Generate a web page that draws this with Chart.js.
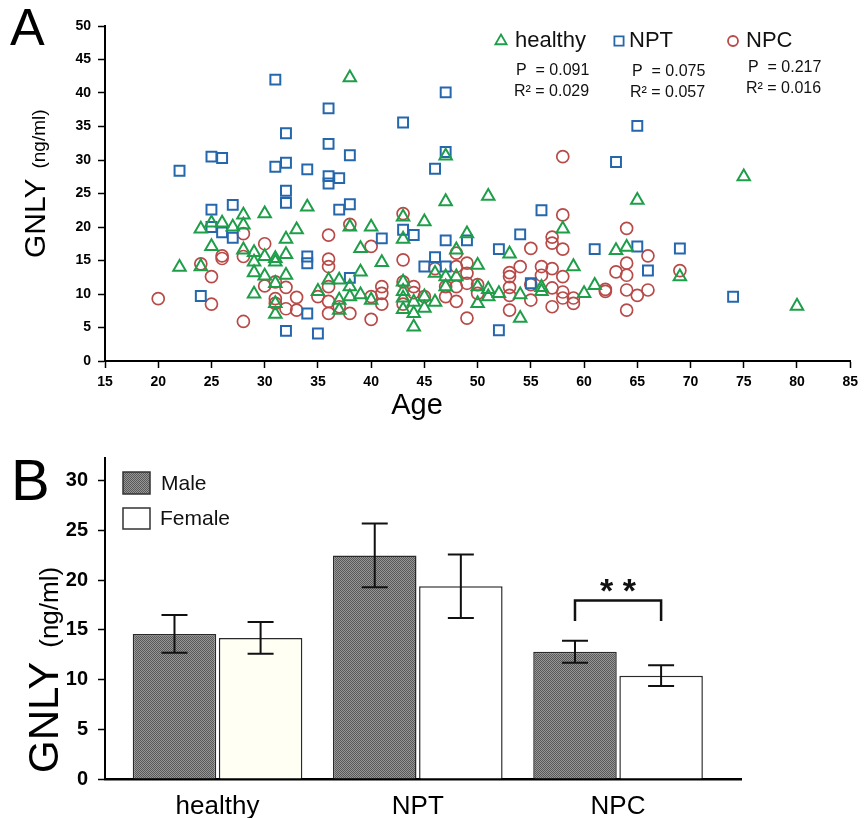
<!DOCTYPE html>
<html>
<head>
<meta charset="utf-8">
<script src="https://cdn.jsdelivr.net/npm/chart.js@4.4.1/dist/chart.umd.min.js"></script>
<style>
  html, body { margin: 0; padding: 0; background: #fff; }
  #wrap { position: relative; width: 864px; height: 818px; }
  #chartA { position: absolute; left: 0; top: 0; }
  #chartB { position: absolute; left: 0; top: 420px; }
</style>
</head>
<body>
<div id="wrap">
  <canvas id="chartA" width="864" height="420"></canvas>
  <canvas id="chartB" width="864" height="398"></canvas>
</div>
<script>
// ---- panel A: GNLY vs age ----
const healthyAge  = [22,24,24,25,26,25,27,28,28,28,29,29,29,29,30,30,30,31,31,31,31,31,32,32,32,33,34,38,38,40,39,41,39,37,36,35,38,38,39,37,37,40,43,43,45,47,47,51,43,43,43,43,44,44,44,45,45,46,46,47,47,48,48,49,50,50,50,65,58,53,59,63,64,51,51,52,54,54,56,56,60,61,75,69,80]
const healthyGnly = [14.0,14.1,19.7,20.6,20.6,17.1,20.0,21.8,20.3,16.6,16.2,14.8,13.2,10.0,22.0,15.6,12.7,15.3,14.8,11.6,8.6,7.0,18.2,15.9,12.8,19.6,23.0,42.3,20.0,20.0,16.8,14.7,13.3,12.1,12.1,10.4,11.1,9.6,9.9,9.1,7.6,9.1,21.5,18.2,20.8,23.8,30.6,24.6,11.8,10.4,9.4,7.7,8.8,7.1,5.1,9.6,7.9,8.8,13.1,12.6,11.1,12.6,16.6,19.0,14.3,11.1,8.6,24.0,19.7,16.0,14.1,16.5,17.0,10.7,9.6,10.1,9.9,6.4,11.0,10.4,10.1,11.3,27.5,12.6,8.2]

const nptAge  = [22,25,26,31,32,32,32,25,27,25,26,27,24,32,31,36,32,36,38,34,36,36,37,37,38,34,34,34,35,38,41,43,44,46,47,47,43,47,46,45,47,49,63,56,54,52,61,65,66,55,52,69,65,74]
const nptGnly = [28.4,30.5,30.3,29.0,29.6,25.4,23.6,22.6,23.3,20.0,19.2,18.4,9.7,4.5,42.0,37.7,34.0,32.4,30.7,28.6,27.6,26.5,27.3,22.6,23.4,15.6,14.6,7.1,4.1,12.4,18.3,19.6,18.8,28.7,31.2,40.1,35.6,18.0,15.5,14.1,14.1,18.0,29.7,22.5,18.9,16.7,16.7,17.1,13.5,11.6,4.6,16.8,35.1,9.6]

const npcAge  = [20,24,25,25,26,26,28,28,28,30,30,31,31,31,32,32,33,33,36,36,36,36,36,36,35,38,38,37,40,40,40,41,41,41,43,43,43,43,44,44,45,46,47,47,48,48,48,48,49,49,49,49,50,50,58,58,57,57,58,55,54,53,53,53,53,53,56,56,55,55,57,58,57,57,58,58,59,59,62,62,63,64,64,64,64,64,65,66,66,69]
const npcGnly = [9.3,14.5,12.6,8.5,15.7,15.3,19.0,15.6,5.9,17.5,11.2,11.8,9.3,8.6,11.0,7.8,9.5,7.6,18.8,15.2,14.1,11.1,8.9,7.1,9.6,20.4,7.1,8.1,17.1,9.6,6.2,11.1,10.1,8.5,22.0,15.1,11.8,8.5,11.1,10.2,9.6,13.8,11.1,9.6,16.1,14.1,11.1,8.9,14.6,13.1,11.6,6.4,11.4,10.1,30.5,21.8,18.5,17.6,16.7,16.8,14.1,13.2,12.6,11.0,9.8,7.6,14.1,12.8,11.4,9.1,13.8,12.6,10.9,8.1,10.3,9.4,9.4,8.6,10.7,10.4,13.3,19.8,14.6,12.8,10.6,7.6,9.8,15.7,10.6,13.5]

const groupLabels = ['healthy', 'NPT', 'NPC']
const pValues     = ['0.091', '0.075', '0.217']
const rSquared    = ['0.029', '0.057', '0.016']

// ---- panel B: mean GNLY by sex ----
const sexLabels  = ['Male', 'Female']
const maleMean   = [14.6, 22.5, 12.8]
const maleErr    = [1.9, 3.2, 1.1]
const femaleMean = [14.2, 19.4, 10.4]
const femaleErr  = [1.6, 3.2, 1.05]

const GREEN = '#1f9e4a'
const BLUE  = '#2467ad'
const RED   = '#b84a48'
const FONT  = "'Liberation Sans', Arial, sans-serif"

const pairs = (xs, ys) => xs.map((x, i) => ({ x, y: ys[i] }))

function drawMarker(ctx, style, x, y, r, color) {
  ctx.save()
  ctx.strokeStyle = color
  ctx.lineWidth = 1.8
  ctx.beginPath()
  if (style === 'triangle') {
    ctx.moveTo(x, y - r)
    ctx.lineTo(x + r * 0.866, y + r * 0.5)
    ctx.lineTo(x - r * 0.866, y + r * 0.5)
    ctx.closePath()
  } else if (style === 'rect') {
    const s = r * Math.SQRT1_2
    ctx.rect(x - s, y - s, 2 * s, 2 * s)
  } else {
    ctx.arc(x, y, r, 0, Math.PI * 2)
  }
  ctx.stroke()
  ctx.restore()
}

function drawVTitle(ctx, x, yStart, big, bigFont, small, smallFont, gap) {
  ctx.save()
  ctx.translate(x, yStart)
  ctx.rotate(-Math.PI / 2)
  ctx.fillStyle = '#000'
  ctx.textAlign = 'left'
  ctx.textBaseline = 'alphabetic'
  ctx.font = bigFont
  ctx.fillText(big, 0, 0)
  const w = ctx.measureText(big).width
  ctx.font = smallFont
  ctx.fillText(small, w + gap, 0)
  ctx.restore()
}

const panelA = {
  id: 'panelA',
  afterDraw(chart) {
    const ctx = chart.ctx
    ctx.save()
    ctx.fillStyle = '#000'
    ctx.textBaseline = 'alphabetic'
    ctx.font = `52px ${FONT}`
    ctx.fillText('A', 10, 45)

    ctx.font = `29px ${FONT}`
    ctx.textAlign = 'center'
    ctx.fillText('Age', 417, 414)

    drawVTitle(ctx, 45, 258, 'GNLY', `30px ${FONT}`, '(ng/ml)', `19px ${FONT}`, 10)

    // legend + regression stats
    const styles = ['triangle', 'rect', 'circle']
    const colors = [GREEN, BLUE, RED]
    const markX = [501, 619, 733]
    const textX = [515, 629, 746]
    const statX = [516, 632, 748]
    const statY = [71, 72, 68]
    ctx.textAlign = 'left'
    ctx.textBaseline = 'middle'
    for (let i = 0; i < 3; i++) {
      drawMarker(ctx, styles[i], markX[i], 41, styles[i] === 'circle' ? 5 : 6.5, colors[i])
      ctx.font = `22px ${FONT}`
      ctx.fillStyle = '#111'
      ctx.fillText(groupLabels[i], textX[i], 41)
      ctx.font = `16px ${FONT}`
      ctx.fillText(`P  = ${pValues[i]}`, statX[i], statY[i])
      ctx.fillText(`R² = ${rSquared[i]}`, statX[i] - 2, statY[i] + 21)
    }
    ctx.restore()
  }
}

new Chart(document.getElementById('chartA'), {
  type: 'scatter',
  data: {
    datasets: [
      { label: 'healthy', data: pairs(healthyAge, healthyGnly), pointStyle: 'triangle', pointRadius: 7.2,
        pointBorderColor: GREEN, pointBackgroundColor: 'rgba(0,0,0,0)', pointBorderWidth: 2 },
      { label: 'NPT', data: pairs(nptAge, nptGnly), pointStyle: 'rect', pointRadius: 7,
        pointBorderColor: BLUE, pointBackgroundColor: 'rgba(0,0,0,0)', pointBorderWidth: 2 },
      { label: 'NPC', data: pairs(npcAge, npcGnly), pointStyle: 'circle', pointRadius: 6,
        pointBorderColor: RED, pointBackgroundColor: 'rgba(0,0,0,0)', pointBorderWidth: 1.7 }
    ]
  },
  options: {
    responsive: false,
    animation: false,
    layout: { padding: { left: 0, right: 11, top: 26, bottom: 0 } },
    plugins: { legend: { display: false }, tooltip: { enabled: false } },
    scales: {
      x: {
        type: 'linear', min: 15, max: 85,
        afterFit: (s) => { s.height = 59 },
        ticks: { stepSize: 5, color: '#000', padding: 6, font: { size: 14, weight: 'bold', family: FONT } },
        grid: { drawOnChartArea: false, drawTicks: true, tickLength: 7, tickColor: '#000', tickWidth: 1.5 },
        border: { color: '#000', width: 2 }
      },
      y: {
        min: 0, max: 50,
        afterFit: (s) => { s.width = 105 },
        ticks: { stepSize: 5, color: '#000', padding: 7, font: { size: 14, weight: 'bold', family: FONT } },
        grid: { drawOnChartArea: false, drawTicks: true, tickLength: 7, tickColor: '#000', tickWidth: 1.5 },
        border: { color: '#000', width: 2 }
      }
    }
  },
  plugins: [panelA]
})

// ---- panel B ----
const ctxB = document.getElementById('chartB').getContext('2d')
function stipple() {
  const c = document.createElement('canvas')
  c.width = 4; c.height = 4
  const g = c.getContext('2d')
  g.fillStyle = '#969696'
  g.fillRect(0, 0, 4, 4)
  g.fillStyle = '#595959'
  for (let y = 0; y < 4; y++) for (let x = 0; x < 4; x++) if ((x + y) % 2 === 0) g.fillRect(x, y, 1, 1)
  return ctxB.createPattern(c, 'repeat')
}
const maleFill = stipple()
const femaleFill = ['#fffff4', '#ffffff', '#ffffff']

const panelB = {
  id: 'panelB',
  afterDatasetsDraw(chart) {
    const ctx = chart.ctx
    const yS = chart.scales.y
    const errs = [maleErr, femaleErr]
    const means = [maleMean, femaleMean]
    ctx.save()
    ctx.strokeStyle = '#111'
    ctx.lineWidth = 2
    for (let d = 0; d < 2; d++) {
      chart.getDatasetMeta(d).data.forEach((bar, j) => {
        const top = yS.getPixelForValue(means[d][j] + errs[d][j])
        const bot = yS.getPixelForValue(means[d][j] - errs[d][j])
        ctx.beginPath()
        ctx.moveTo(bar.x, top); ctx.lineTo(bar.x, bot)
        ctx.moveTo(bar.x - 13, top); ctx.lineTo(bar.x + 13, top)
        ctx.moveTo(bar.x - 13, bot); ctx.lineTo(bar.x + 13, bot)
        ctx.stroke()
      })
    }
    // significance bracket NPC male vs female
    const x1 = chart.getDatasetMeta(0).data[2].x
    const x2 = chart.getDatasetMeta(1).data[2].x
    const yLeg = yS.getPixelForValue(15.9)
    const yTop = yS.getPixelForValue(17.95)
    ctx.lineWidth = 2.5
    ctx.beginPath()
    ctx.moveTo(x1, yLeg); ctx.lineTo(x1, yTop); ctx.lineTo(x2, yTop); ctx.lineTo(x2, yLeg)
    ctx.stroke()
    ctx.fillStyle = '#111'
    ctx.font = `bold 34px ${FONT}`
    ctx.textAlign = 'center'
    ctx.textBaseline = 'alphabetic'
    ctx.fillText('* *', (x1 + x2) / 2, yS.getPixelForValue(19.3) + 15)
    ctx.restore()
  },
  afterDraw(chart) {
    const ctx = chart.ctx
    ctx.save()
    ctx.fillStyle = '#000'
    ctx.textBaseline = 'alphabetic'
    ctx.font = `58px ${FONT}`
    ctx.fillText('B', 11, 80)

    drawVTitle(ctx, 58, 353, 'GNLY', `42px ${FONT}`, '(ng/ml)', `26px ${FONT}`, 14)

    // legend
    ctx.lineWidth = 1.5
    ctx.strokeStyle = '#333'
    ctx.fillStyle = maleFill
    ctx.fillRect(123, 52, 27, 22)
    ctx.strokeRect(123, 52, 27, 22)
    ctx.fillStyle = '#fff'
    ctx.fillRect(123, 88, 27, 21)
    ctx.strokeRect(123, 88, 27, 21)
    ctx.fillStyle = '#111'
    ctx.font = `21px ${FONT}`
    ctx.textBaseline = 'middle'
    ctx.fillText(sexLabels[0], 161, 64)
    ctx.fillText(sexLabels[1], 160, 99)
    ctx.restore()
  }
}

new Chart(ctxB, {
  type: 'bar',
  data: {
    datasets: [
      { label: sexLabels[0], data: maleMean.map((v, i) => ({ x: i, y: v })),
        backgroundColor: maleFill, borderColor: '#2a2a2a', borderWidth: 1.5,
        categoryPercentage: 0.86, barPercentage: 0.97 },
      { label: sexLabels[1], data: femaleMean.map((v, i) => ({ x: i, y: v })),
        backgroundColor: femaleFill, borderColor: '#2a2a2a', borderWidth: 1.5,
        categoryPercentage: 0.86, barPercentage: 0.97 }
    ]
  },
  options: {
    responsive: false,
    animation: false,
    layout: { padding: { left: 0, right: 123, top: 38, bottom: 0 } },
    plugins: { legend: { display: false }, tooltip: { enabled: false } },
    scales: {
      x: {
        type: 'linear', offset: false, min: -0.562, max: 2.614,
        afterFit: (s) => { s.height = 39 },
        ticks: { stepSize: 1, includeBounds: false, autoSkip: false, maxRotation: 0,
          callback: (v) => groupLabels[v] ?? '', color: '#000', padding: 4,
          font: { size: 26, family: FONT } },
        grid: { display: false },
        border: { color: '#000', width: 2.5 }
      },
      y: {
        min: 0, max: 32.3,
        afterFit: (s) => { s.width = 105 },
        ticks: { stepSize: 2.5, includeBounds: false, color: '#000', padding: 10,
          callback: (v) => (v % 5 === 0 ? v : ''),
          font: { size: 20, weight: 'bold', family: FONT } },
        grid: { drawOnChartArea: false, drawTicks: true, tickLength: 7, tickWidth: 1.5,
          tickColor: (c) => (c.tick && c.tick.value % 5 === 0 ? '#000' : '#bbb') },
        border: { color: '#000', width: 2 }
      }
    }
  },
  plugins: [panelB]
})
</script>
</body>
</html>
